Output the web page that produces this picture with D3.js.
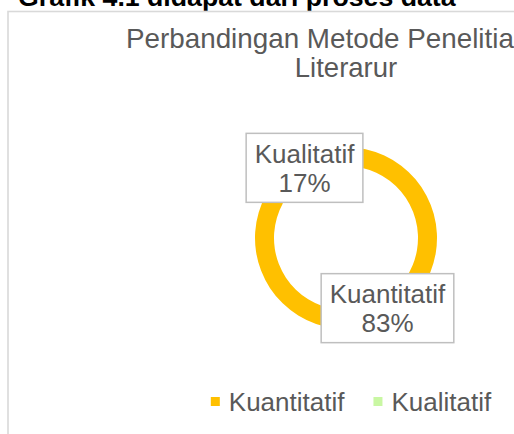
<!DOCTYPE html>
<html>
<head>
<meta charset="utf-8">
<script src="https://cdn.jsdelivr.net/npm/d3@7"></script>
<style>
  html, body { margin: 0; padding: 0; background: #fff; }
  svg { display: block; }
  text { font-family: "Liberation Sans", Arial, sans-serif; }
</style>
</head>
<body>
<svg id="chart" width="514" height="434"></svg>
<script>
const heading = "Grafik 4.1 didapat dari proses data";
const titleLines = ["Perbandingan Metode Penelitian", "Literarur"];
const categories = ["Kuantitatif", "Kualitatif"];
const values = [83, 17];
const colors = ["#FFC000", "#C9F7A3"];

const svg = d3.select("#chart");
const cx = 346, cy = 238;
const outerR = 91, innerR = 72;
const textColor = "#595959";

// page heading (cut at top)
svg.append("text")
  .attr("x", 18).attr("y", 6)
  .attr("font-size", 26.7).attr("font-weight", "bold")
  .attr("fill", "#000")
  .text(heading);

// chart frame (extends past the cropped view)
svg.append("rect")
  .attr("x", 8).attr("y", 11.5)
  .attr("width", 676).attr("height", 460)
  .attr("fill", "#fff")
  .attr("stroke", "#d9d9d9").attr("stroke-width", 1.6);

// title: first line runs off the right edge of the crop
svg.append("text")
  .attr("x", 126).attr("y", 48)
  .attr("font-size", 27.8)
  .attr("fill", textColor)
  .text(titleLines[0]);
svg.append("text")
  .attr("x", cx).attr("y", 77)
  .attr("text-anchor", "middle")
  .attr("font-size", 27.5)
  .attr("fill", textColor)
  .text(titleLines[1]);

// donut
const data = categories.map((c, i) => ({ cat: c, value: values[i], color: colors[i] }));
const pie = d3.pie().value(d => d.value).sort(null);
const arc = d3.arc().innerRadius(innerR).outerRadius(outerR);
const arcs = pie(data);
const g = svg.append("g").attr("transform", `translate(${cx},${cy})`);
g.selectAll("path").data(arcs).join("path")
  .attr("d", arc)
  .attr("fill", d => d.data.color);

// data labels with boxes
const total = d3.sum(values);
const labelArc = d3.arc().innerRadius((innerR + outerR) / 2).outerRadius((innerR + outerR) / 2);
arcs.forEach(a => {
  const [lx, ly] = labelArc.centroid(a);
  const lg = g.append("g").attr("transform", `translate(${lx},${ly})`);
  const rect = lg.append("rect");
  const t1 = lg.append("text").attr("text-anchor", "middle").attr("font-size", 26)
    .attr("fill", textColor).attr("y", -5).text(a.data.cat);
  const t2 = lg.append("text").attr("text-anchor", "middle").attr("font-size", 26)
    .attr("fill", textColor).attr("y", 24)
    .text(Math.round(a.data.value / total * 100) + "%");
  const w = Math.max(t1.node().getComputedTextLength(), t2.node().getComputedTextLength()) + 17;
  const h = 69;
  rect.attr("x", -w / 2).attr("y", -h / 2).attr("width", w).attr("height", h)
    .attr("fill", "#fff").attr("stroke", "#bfbfbf").attr("stroke-width", 1.5);
});

// legend
const legend = svg.append("g");
let lxPos = 0;
data.forEach((d, i) => {
  const it = legend.append("g");
  it.append("rect").attr("x", 0).attr("y", -14).attr("width", 9).attr("height", 9).attr("fill", d.color);
  const t = it.append("text").attr("x", 18).attr("y", 0).attr("font-size", 26)
    .attr("fill", textColor).text(d.cat);
  it.attr("transform", `translate(${lxPos},0)`);
  lxPos += 18 + t.node().getComputedTextLength() + 29;
});
const legendW = lxPos - 29;
legend.attr("transform", `translate(${351 - legendW / 2},411)`);
</script>
</body>
</html>
